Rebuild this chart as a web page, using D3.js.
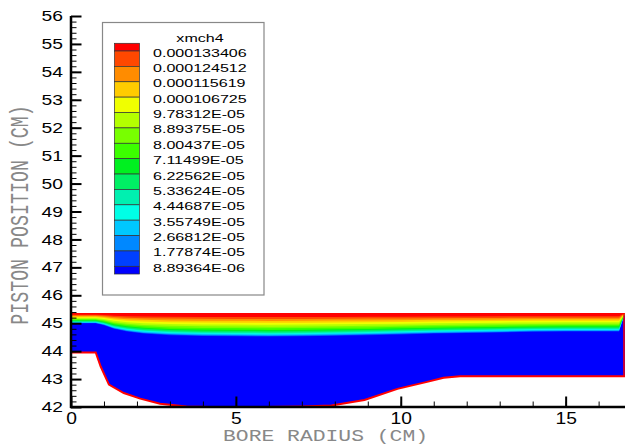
<!DOCTYPE html>
<html>
<head>
<meta charset="utf-8">
<script src="https://cdnjs.cloudflare.com/ajax/libs/d3/7.8.5/d3.min.js"></script>
<style>
    body { margin: 0; background: #fff; }
    svg { display: block; }
</style>
</head>
<body>
<div id="chart"></div>
<script>
// contour level labels, top (highest) first
var levelLabels = ["0.000133406", "0.000124512", "0.000115619", "0.000106725", "9.78312E-05",
    "8.89375E-05", "8.00437E-05", "7.11499E-05", "6.22562E-05", "5.33624E-05",
    "4.44687E-05", "3.55749E-05", "2.66812E-05", "1.77874E-05", "8.89364E-06"];

// fill colours, highest band first
var bandColors = ["#ff0000", "#ff4800", "#ff8c00", "#ffcc00", "#f0ff00", "#b4ff00", "#78ff00",
    "#3cff00", "#00f020", "#00f064", "#00f0b0", "#00ffe6", "#00c8ff", "#0088ff", "#0040ff", "#0000ff"];

// where each level sits between the lowest isoline (0) and the piston surface (1), lowest level first
var levelFrac = [0, 0.027, 0.054, 0.095, 0.135, 0.176, 0.23, 0.284, 0.351, 0.419, 0.5, 0.581, 0.662, 0.743, 0.824];

// lowest isoline (8.89e-6) along the bore radius
var edgeR = [0, 0.75, 1.0, 1.3, 1.7, 2.2, 3, 4, 5, 6, 7, 8, 9, 10, 11, 12, 13, 14, 15, 16, 16.62, 16.8];
var edgeY = [45.0, 45.0, 44.93, 44.8, 44.7, 44.63, 44.57, 44.54, 44.53, 44.52, 44.53, 44.55, 44.57,
    44.6, 44.63, 44.65, 44.67, 44.69, 44.7, 44.7, 44.7, 45.37];
var pistonTop = 45.37;

// lower wall of the gas region
var wallR = [0, 0.75, 0.9, 1.15, 1.6, 2.1, 2.7, 3.5, 4.2, 5.9, 7, 7.9, 8.9, 9.9, 10.8, 11.3, 11.8, 16.8];
var wallY = [43.95, 43.95, 43.45, 42.8, 42.5, 42.3, 42.12, 42.02, 42.0, 42.0, 42.02, 42.05, 42.25, 42.65,
    42.9, 43.05, 43.1, 43.1];

var xTicks = [0, 5, 10, 15];
var yTicks = [42, 43, 44, 45, 46, 47, 48, 49, 50, 51, 52, 53, 54, 55, 56];

var W = 625, H = 445,
    sx = 1.38; // picture is stretched sideways

var svg = d3.select("#chart").append("svg")
    .attr("width", W)
    .attr("height", H);

var x = d3.scaleLinear().domain([0, 16.8]).range([71, 625]);
var y = d3.scaleLinear().domain([42, 56]).range([407, 16]);

// stretch text sideways to match picture
function stretch(sel, k) {
    sel.each(function() {
        var w = this.getComputedTextLength();
        d3.select(this).attr("textLength", w * k).attr("lengthAdjust", "spacingAndGlyphs");
    });
}

var edge = edgeR.map(function(r, i) { return { r: r, y: edgeY[i] }; });
var wall = wallR.map(function(r, i) { return { r: r, y: wallY[i] }; });

// whole gas region in blue
var outline = [{ r: 0, y: pistonTop }, { r: 16.8, y: pistonTop }].concat(wall.slice().reverse());
svg.append("path")
    .attr("d", d3.line().x(function(d) { return x(d.r); }).y(function(d) { return y(d.y); })(outline) + "Z")
    .attr("fill", bandColors[15]);

// contour bands, lowest first
levelFrac.forEach(function(f, k) {
    var area = d3.area()
        .x(function(d) { return x(d.r); })
        .y0(y(pistonTop))
        .y1(function(d) { return y(d.y + f * (pistonTop - d.y)); });
    svg.append("path")
        .attr("d", area(edge))
        .attr("fill", bandColors[14 - k]);
});

// wall line
svg.append("path")
    .attr("d", d3.line().x(function(d) { return x(d.r); }).y(function(d) { return y(d.y); })(wall))
    .attr("fill", "none")
    .attr("stroke", "#ff0000")
    .attr("stroke-width", 2);

svg.append("line")
    .attr("x1", x(16.8) - 1).attr("x2", x(16.8) - 1)
    .attr("y1", y(pistonTop)).attr("y2", y(43.1))
    .attr("stroke", "#ff0000")
    .attr("stroke-width", 1.5);

// axes, ticks pointing inward
var yMinor = d3.range(42, 56.01, 0.2);
var xMinor = d3.range(0, 16.81, 1);

svg.append("g")
    .attr("transform", "translate(71,0)")
    .call(d3.axisLeft(y).tickValues(yMinor).tickSize(-5.5).tickFormat(""))
    .call(function(g) { g.select(".domain").remove(); g.selectAll("line").attr("stroke-width", 1); });

svg.append("g")
    .attr("transform", "translate(0,407)")
    .call(d3.axisBottom(x).tickValues(xMinor).tickSize(-5.5).tickFormat(""))
    .call(function(g) { g.select(".domain").remove(); g.selectAll("line").attr("stroke-width", 1); });

var yAxis = svg.append("g")
    .attr("transform", "translate(71,0)")
    .call(d3.axisLeft(y).tickValues(yTicks).tickSize(-10.5).tickPadding(8).tickFormat(d3.format("d")));
yAxis.select(".domain").remove();
yAxis.selectAll("line").attr("stroke-width", 2);
yAxis.selectAll("text")
    .style("font-family", "Liberation Sans, Arial, sans-serif")
    .style("font-size", "14.5px")
    .attr("fill", "#000");
stretch(yAxis.selectAll("text"), 1.33);

var xAxis = svg.append("g")
    .attr("transform", "translate(0,407)")
    .call(d3.axisBottom(x).tickValues(xTicks).tickSize(-10.5).tickPadding(6).tickFormat(d3.format("d")));
xAxis.select(".domain").remove();
xAxis.selectAll("line").attr("stroke-width", 2);
xAxis.selectAll("text")
    .style("font-family", "Liberation Sans, Arial, sans-serif")
    .style("font-size", "16px")
    .attr("fill", "#000");
stretch(xAxis.selectAll("text"), 1.2);

svg.append("line")
    .attr("x1", 71).attr("x2", 71)
    .attr("y1", 16).attr("y2", 408)
    .attr("stroke", "#000").attr("stroke-width", 2.5);
svg.append("line")
    .attr("x1", 70).attr("x2", 625)
    .attr("y1", 407).attr("y2", 407)
    .attr("stroke", "#000").attr("stroke-width", 2.5);

// axis titles
svg.append("text")
    .attr("x", 325.5)
    .attr("y", 440.5)
    .attr("text-anchor", "middle")
    .style("font-family", "Courier New, Liberation Mono, monospace")
    .style("font-size", "16px")
    .attr("fill", "#888")
    .attr("textLength", 205)
    .attr("lengthAdjust", "spacingAndGlyphs")
    .text("BORE RADIUS  (CM)");

svg.append("text")
    .attr("transform", "translate(28,215) scale(" + sx + ",1) rotate(-90)")
    .attr("text-anchor", "middle")
    .style("font-family", "Courier New, Liberation Mono, monospace")
    .style("font-size", "18.3px")
    .attr("fill", "#888")
    .text("PISTON POSITION (CM)");

// legend
var legend = svg.append("g");
legend.append("rect")
    .attr("x", 102.5).attr("y", 22.5)
    .attr("width", 161.5).attr("height", 272.5)
    .attr("fill", "#fff")
    .attr("stroke", "#888")
    .attr("stroke-width", 1.2);

var rowH = 15.38, half = 7.7, top0 = 43.3;
var rowY = d3.scaleLinear().domain([0, 15]).range([top0 + half, top0 + half + 15 * rowH]);

legend.selectAll("rect.swatch")
    .data(bandColors)
    .enter()
    .append("rect")
    .attr("class", "swatch")
    .attr("x", 114.5)
    .attr("y", function(d, i) { return i === 0 ? top0 : rowY(i - 1); })
    .attr("width", 25)
    .attr("height", function(d, i) { return (i === 0 || i === 15) ? half : rowH; })
    .attr("fill", function(d) { return d; })
    .attr("stroke", "#333")
    .attr("stroke-width", 0.7);

var labels = legend.selectAll("text.lab")
    .data(levelLabels)
    .enter()
    .append("text")
    .attr("class", "lab")
    .attr("x", 153)
    .attr("y", function(d, i) { return rowY(i) + 5.5; })
    .style("font-family", "Liberation Sans, Arial, sans-serif")
    .style("font-size", "11.8px")
    .text(function(d) { return d; });
stretch(labels, 1.36);

var title = legend.append("text")
    .attr("x", 200)
    .attr("y", 41.5)
    .attr("text-anchor", "middle")
    .style("font-family", "Liberation Sans, Arial, sans-serif")
    .style("font-size", "11.8px")
    .text("xmch4");
stretch(title, 1.36);
</script>
</body>
</html>
